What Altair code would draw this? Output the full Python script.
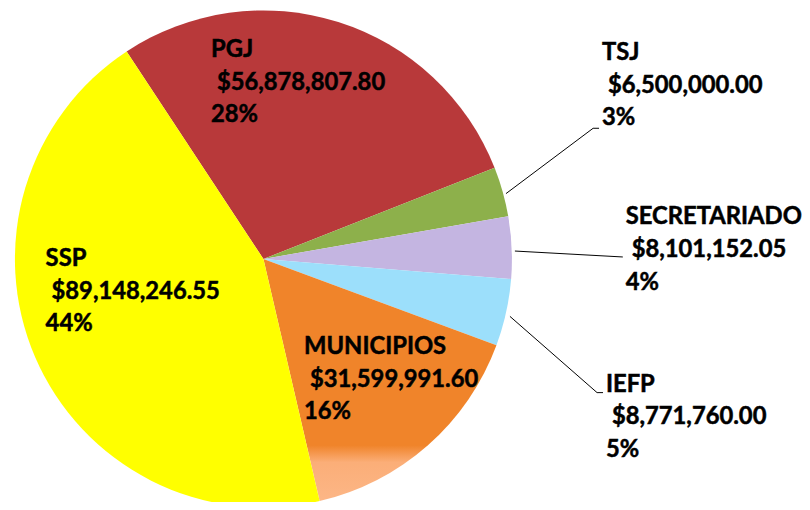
import math
import altair as alt
import pandas as pd

# ---- data ----
categories = ["PGJ", "TSJ", "SECRETARIADO", "IEFP", "MUNICIPIOS", "SSP"]
amounts = [56878807.80, 6500000.00, 8101152.05, 8771760.00, 31599991.60, 89148246.55]
pct_labels = ["28%", "3%", "4%", "5%", "16%", "44%"]

# ---- styles ----
colors = ["#B8393A", "#8DB04B", "#C4B5E1", "#9CDFFB", "#F0842A", "#FFFF00"]
muni_gradient = {
    "gradient": "linear", "x1": 0, "y1": 0, "x2": 0, "y2": 1,
    "stops": [
        {"offset": 0.0, "color": "#F0842A"},
        {"offset": 0.77, "color": "#F0842A"},
        {"offset": 0.84, "color": "#FBAE78"},
        {"offset": 1.0, "color": "#FCB686"},
    ],
}

# ---- layout (pixels inside the chart) ----
W, H = 802, 494
CX, CY, R = 258, 251, 251
START = math.radians(-33.4)
label_x = [205, 600, 624, 604, 299, 38]
label_y = [40, 43, 209, 378, 340, 251]
LINE = 33
VALUE_INDENT = 6
leader_x = [503, 591, 512, 507, 595]
leader_y = [185, 119, 243, 309, 386]
leader_x2 = [591, 597, 621, 595, 601]
leader_y2 = [119, 119, 249, 386, 386]

pie_df = pd.DataFrame({"cat": categories, "amount": amounts, "order": list(range(len(categories)))})

rows = []
for i, c in enumerate(categories):
    rows.append({"text": c, "x": label_x[i], "y": label_y[i]})
    rows.append({"text": f"${amounts[i]:,.2f}", "x": label_x[i] + VALUE_INDENT, "y": label_y[i] + LINE})
    rows.append({"text": pct_labels[i], "x": label_x[i], "y": label_y[i] + 2 * LINE})
text_df = pd.DataFrame(rows)

lead_df = pd.DataFrame({"x": leader_x, "y": leader_y, "x2": leader_x2, "y2": leader_y2})

arc = alt.Chart(pie_df).mark_arc(outerRadius=R).encode(
    theta=alt.Theta("amount:Q", stack=True,
                    scale=alt.Scale(range=[START, START + 2 * math.pi])),
    order=alt.Order("order:Q"),
    color=alt.condition(
        "datum.cat == 'MUNICIPIOS'",
        alt.value(muni_gradient),
        alt.Color("cat:N", scale=alt.Scale(domain=categories, range=colors), legend=None),
    ),
    x=alt.value(CX),
    y=alt.value(CY),
)

leaders = alt.Chart(lead_df).mark_rule(color="#000000", strokeWidth=1).encode(
    x=alt.X("x:Q", scale=None),
    y=alt.Y("y:Q", scale=None),
    x2="x2:Q",
    y2="y2:Q",
)

labels = alt.Chart(text_df).mark_text(
    align="left", baseline="middle", font="Lato", fontWeight="bold",
    fontSize=24, color="#000000", stroke="#000000", strokeWidth=0.5,
).encode(
    x=alt.X("x:Q", scale=None),
    y=alt.Y("y:Q", scale=None),
    text="text:N",
)

chart = alt.layer(arc, leaders, labels).properties(
    width=W, height=H, padding=0, autosize="none"
).configure_view(stroke=None)

chart.save("out.html", embed_options={"renderer": "svg", "actions": False})
